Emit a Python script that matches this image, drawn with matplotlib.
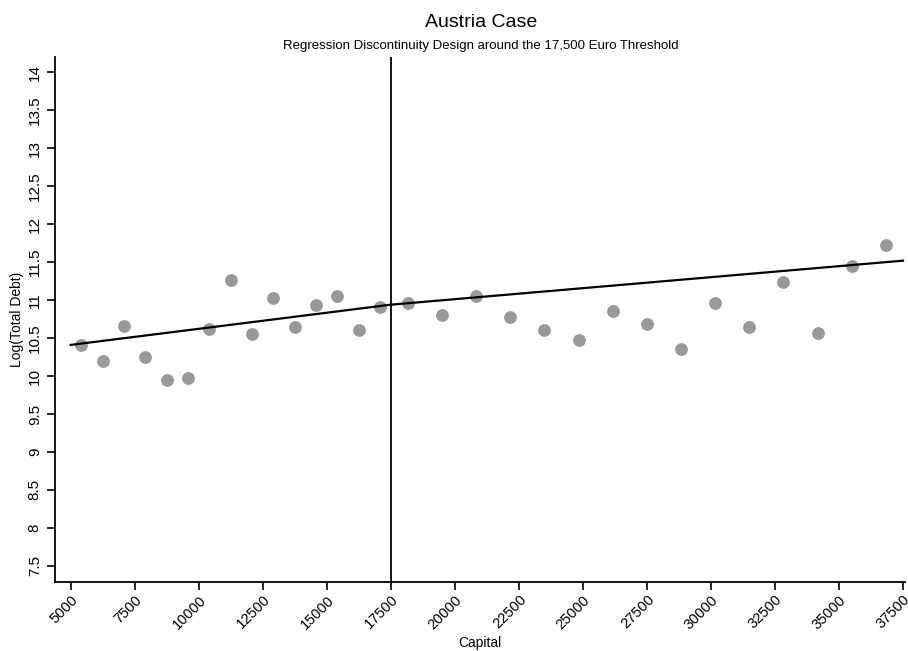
import numpy as np
import matplotlib.pyplot as plt
import matplotlib.transforms as mtransforms

plt.rcParams['font.family'] = ['Liberation Sans', 'DejaVu Sans']

# binned means, left and right of the 17,500 threshold
cap_left = [5417, 6250, 7083, 7917, 8750, 9583, 10417, 11250, 12083, 12917,
            13750, 14583, 15417, 16250, 17083]
debt_left = [10.41, 10.20, 10.66, 10.25, 9.95, 9.97, 10.62, 11.26, 10.56, 11.03,
             10.64, 10.94, 11.06, 10.60, 10.91]
cap_right = [18167, 19500, 20833, 22167, 23500, 24833, 26167, 27500, 28833, 30167,
             31500, 32833, 34167, 35500, 36833]
debt_right = [10.96, 10.81, 11.05, 10.78, 10.60, 10.48, 10.86, 10.68, 10.36, 10.96,
              10.65, 11.24, 10.57, 11.45, 11.72]

# fitted lines (endpoints)
fit_left_x = [5000, 17500]
fit_left_y = [10.41, 10.94]
fit_right_x = [17500, 37500]
fit_right_y = [10.94, 11.52]

threshold = 17500
xticks = np.arange(5000, 37501, 2500)
yticks = np.arange(7.5, 14.01, 0.5)

fig = plt.figure(figsize=(9.08, 6.51), dpi=100)
ax = fig.add_axes([0.0606, 0.1065, 0.9361, 0.8055])

ax.scatter(cap_left, debt_left, s=85, color='#999999', zorder=2, linewidths=0)
ax.scatter(cap_right, debt_right, s=85, color='#999999', zorder=2, linewidths=0)
ax.plot(fit_left_x, fit_left_y, color='black', lw=1.6, zorder=3)
ax.plot(fit_right_x, fit_right_y, color='black', lw=1.6, zorder=3)
ax.axvline(threshold, color='black', lw=1.3, zorder=1)

ax.set_xlim(4387, 37578)
ax.set_ylim(7.29, 14.2)
ax.set_xticks(xticks)
ax.set_xticklabels([str(v) for v in xticks], rotation=45, ha='right',
                   rotation_mode='anchor', fontsize=10.5)
# nudge x labels a little left so the last one stays inside the figure
shift = mtransforms.ScaledTranslation(-4 / 100, 0, fig.dpi_scale_trans)
for lab in ax.get_xticklabels():
    lab.set_transform(lab.get_transform() + shift)
ax.set_yticks(yticks)
ax.set_yticklabels(['%g' % v for v in yticks], rotation=90, va='center', fontsize=11)
ax.tick_params(length=6, width=1.2, direction='out')
ax.tick_params(axis='x', pad=2)

for s in ['top', 'right']:
    ax.spines[s].set_visible(False)
for s in ['left', 'bottom']:
    ax.spines[s].set_linewidth(1.3)

ax.set_xlabel('Capital', fontsize=10, labelpad=3)
ax.set_ylabel('Log(Total Debt)', fontsize=10, labelpad=3)

fig.text(0.53, 0.966, 'Austria Case', ha='center', va='center', fontsize=14)
fig.text(0.53, 0.930, 'Regression Discontinuity Design around the 17,500 Euro Threshold',
         ha='center', va='center', fontsize=9.5)

plt.savefig('out.png', dpi=100)
